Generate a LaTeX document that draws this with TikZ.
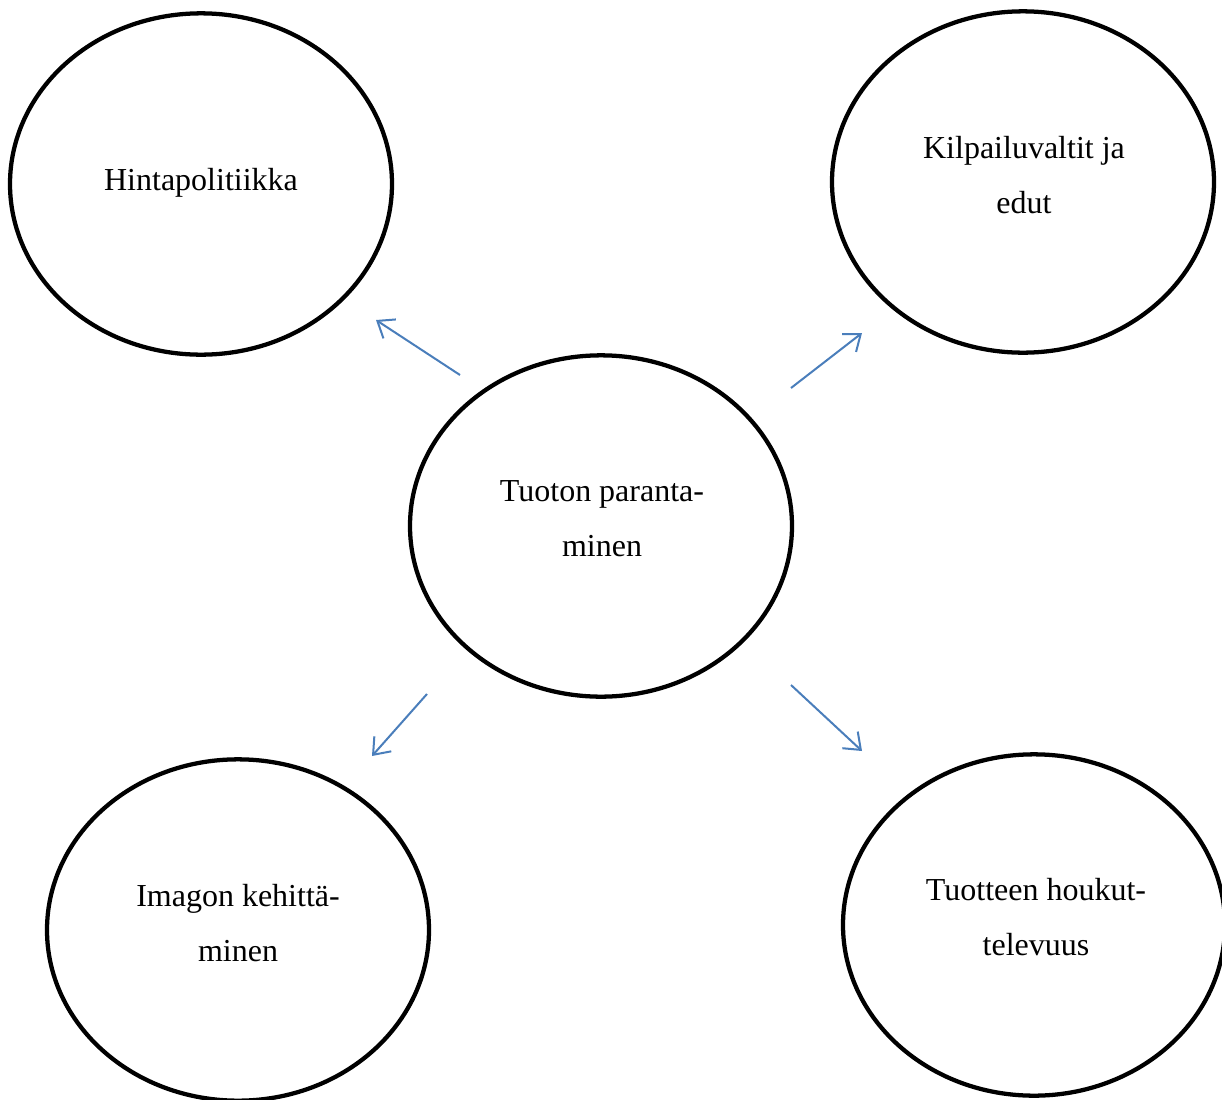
\documentclass[tikz,border=0pt]{standalone}
\usepackage{fontspec}
\setmainfont{Liberation Serif}
\usetikzlibrary{shapes.geometric,arrows.meta}
\definecolor{arrowblue}{RGB}{74,126,187}
\begin{document}
\begin{tikzpicture}[x=0.75pt,y=-0.75pt,
  topic/.style={ellipse,draw=black,line width=3.2pt,minimum width=286.5pt,minimum height=256pt,inner sep=0pt},
  caption/.style={font=\fontsize{24}{41.25}\selectfont,align=center,inner sep=0pt},
  link/.style={draw=arrowblue,line width=1.5pt,-{Straight Barb[length=11pt,width=17pt,line width=1.5pt]}}]
\useasboundingbox (0,0) rectangle (1222,1100);
% ellipses
\node[topic] (hinta) at (201,184) {};
\node[topic] (kilpa) at (1023,182) {};
\node[topic] (tuoton) at (601,526) {};
\node[topic] (imago) at (238,930) {};
\node[topic] (houkut) at (1034,925) {};
% texts
\node[caption,anchor=base] (thinta) at (201,190) {Hintapolitiikka};
\node[caption] (tkilpa) at (1024,175) {Kilpailuvaltit ja\\edut};
\node[caption] (ttuoton) at (602,519) {Tuoton paranta-\\minen};
\node[caption] (timago) at (238,923) {Imagon kehittä-\\minen};
\node[caption] (thoukut) at (1036,917) {Tuotteen houkut-\\televuus};
% arrow ends
\coordinate (a1s) at (460,375); \coordinate (a1e) at (376,320);
\coordinate (a2s) at (791,388); \coordinate (a2e) at (862,333);
\coordinate (a3s) at (427,694); \coordinate (a3e) at (372,756);
\coordinate (a4s) at (791,685); \coordinate (a4e) at (862,751);
\draw[link] (a1s) -- (a1e);
\draw[link] (a2s) -- (a2e);
\draw[link] (a3s) -- (a3e);
\draw[link] (a4s) -- (a4e);
\end{tikzpicture}
\end{document}
